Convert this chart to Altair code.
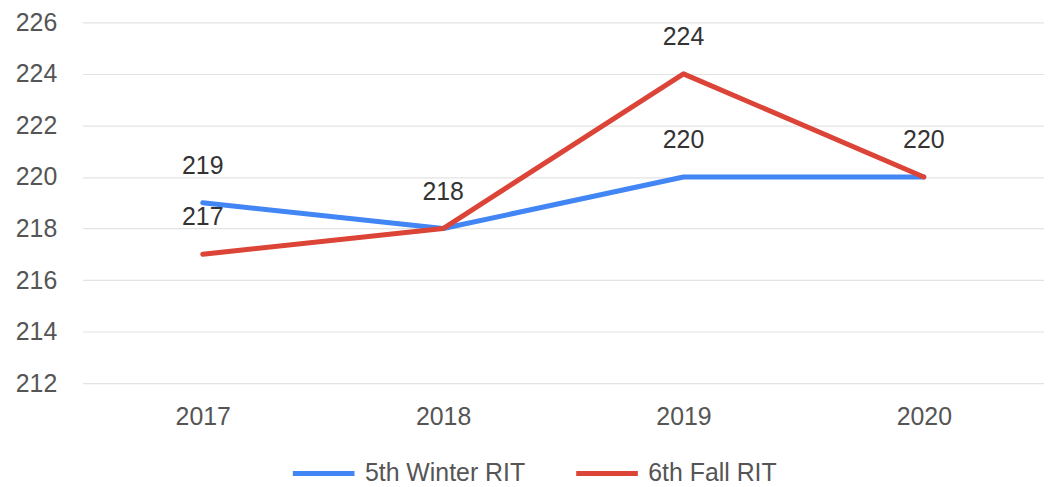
import altair as alt
import pandas as pd

years = ["2017", "2018", "2019", "2020"]
series_names = ["5th Winter RIT", "6th Fall RIT"]
winter_5th = [219, 218, 220, 220]
fall_6th = [217, 218, 224, 220]
y_ticks = [212, 214, 216, 218, 220, 222, 224, 226]
colors = ["#4285f4", "#db4437"]

rows = []
for name, vals in zip(series_names, [winter_5th, fall_6th]):
    for yr, v in zip(years, vals):
        rows.append({"year": yr, "value": v, "series": name})
df = pd.DataFrame(rows)
labels_df = df.drop_duplicates(subset=["year", "value"])

FONT = "Liberation Sans"

x_enc = alt.X("year:O", sort=years, title=None,
              scale=alt.Scale(type="point", padding=0.5),
              axis=alt.Axis(labelAngle=0, ticks=False, domain=False, grid=False,
                            labelFontSize=25, labelColor="#555555", labelFont=FONT,
                            labelPadding=22))
y_enc = alt.Y("value:Q", title=None,
              scale=alt.Scale(domain=[212, 226], nice=False, zero=False),
              axis=alt.Axis(values=y_ticks, ticks=False, domain=False,
                            gridColor="#e3e3e3", gridWidth=1.2,
                            labelFontSize=25, labelColor="#555555", labelFont=FONT,
                            labelPadding=26))

lines = alt.Chart(df).mark_line(strokeWidth=5, strokeCap="round", strokeJoin="round").encode(
    x=x_enc,
    y=y_enc,
    color=alt.Color("series:N", sort=series_names,
                    scale=alt.Scale(domain=series_names, range=colors),
                    legend=alt.Legend(title=None, orient="none", direction="horizontal",
                                      legendX=209, legendY=420, padding=0,
                                      symbolType="stroke", symbolSize=3844,
                                      symbolStrokeWidth=5, labelOffset=8,
                                      columnPadding=40, labelLimit=400,
                                      labelFontSize=25, labelColor="#555555",
                                      labelFont=FONT)),
)

texts = alt.Chart(labels_df).mark_text(fontSize=25, font=FONT, color="#333333",
                                        dy=-37, baseline="middle").encode(
    x=alt.X("year:O", sort=years),
    y=alt.Y("value:Q"),
    text=alt.Text("value:Q"),
)

chart = alt.layer(lines, texts).properties(
    width=967, height=363,
    autosize=alt.AutoSizeParams(type="none"),
    padding={"left": 75, "top": 13, "right": 0, "bottom": 102},
).configure_view(stroke=None)

chart.save("out.html", embed_options={"renderer": "svg", "actions": False})
